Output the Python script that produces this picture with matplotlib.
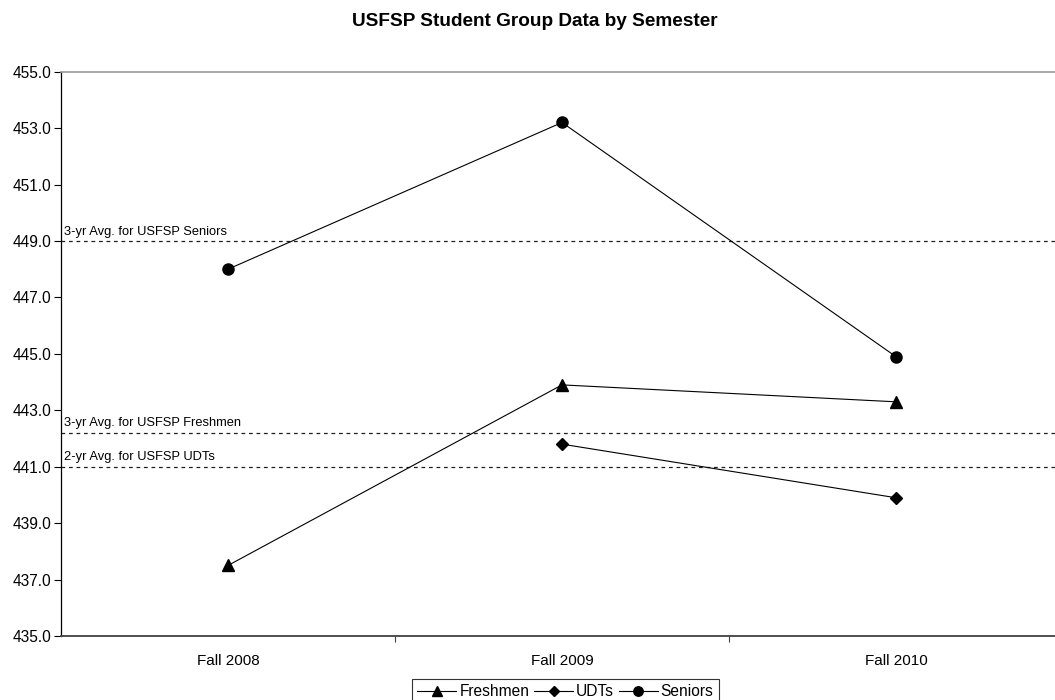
import matplotlib
matplotlib.use("Agg")
import matplotlib.pyplot as plt
import matplotlib.transforms as mtransforms
import numpy as np

plt.rcParams['font.family'] = ['Liberation Sans', 'DejaVu Sans']

# dados
semesters = ["Fall 2008", "Fall 2009", "Fall 2010"]
freshmen = [437.5, 443.9, 443.3]
udts = [np.nan, 441.8, 439.9]
seniors = [448.0, 453.2, 444.9]

avg_values = [449.0, 442.2, 441.0]
avg_labels = ["3-yr Avg. for USFSP Seniors",
              "3-yr Avg. for USFSP Freshmen",
              "2-yr Avg. for USFSP UDTs"]

fig = plt.figure(figsize=(10.55, 7.0), dpi=100)
ax = fig.add_axes([61 / 1055, 64 / 700, 1002 / 1055, 564.3 / 700])

x = np.arange(len(semesters))

# linhas de media tracejadas
trans = mtransforms.blended_transform_factory(ax.transAxes, ax.transData)
for val, lab in zip(avg_values, avg_labels):
    ax.axhline(val, color="#202020", lw=0.9, linestyle=(0, (3, 3)), zorder=1)
    ax.text(0.003, val + 0.12, lab, transform=trans, fontsize=9.3,
            ha="left", va="bottom", color="black")

ax.plot(x, freshmen, color="black", lw=0.8, marker="^", markersize=8, label="Freshmen", zorder=3)
ax.plot(x, udts, color="black", lw=0.8, marker="D", markersize=6, label="UDTs", zorder=3)
ax.plot(x, seniors, color="black", lw=0.8, marker="o", markersize=8, label="Seniors", zorder=3)

ax.set_xlim(-0.5, 2.5)
ax.set_ylim(435, 455)
yt = np.arange(435, 455.1, 2)
ax.set_yticks(yt)
ax.set_yticklabels(["%.1f" % v for v in yt], fontsize=11.2)
ax.set_xticks(x)
ax.set_xticklabels(semesters, fontsize=11)
ax.set_xticks([0.5, 1.5, 2.5], minor=True)
ax.tick_params(axis="x", which="major", length=0, pad=13)
ax.tick_params(axis="x", which="minor", length=4, width=0.8, direction="out", color="#404040")
ax.tick_params(axis="y", length=5, width=0.8, direction="out", pad=2)

ax.spines["right"].set_visible(False)
ax.spines["top"].set_color("#999999")
ax.spines["top"].set_linewidth(1.2)
ax.spines["bottom"].set_color("#404040")
ax.spines["bottom"].set_linewidth(1.3)
ax.spines["left"].set_color("black")
ax.spines["left"].set_linewidth(0.9)

fig.text(535 / 1055, 1 - 21 / 700, "USFSP Student Group Data by Semester", ha="center", va="center",
         fontsize=13.7, fontweight="bold")

leg = fig.legend(loc="upper left", bbox_to_anchor=(412 / 1055, 1 - 679 / 700), ncol=3,
                 fontsize=11.2, frameon=True, fancybox=False, edgecolor="black",
                 handlelength=2.5, handletextpad=0.2, columnspacing=0.3,
                 borderpad=0.35, borderaxespad=0, markerscale=0.85)
leg.get_frame().set_linewidth(0.8)

fig.savefig("out.png", dpi=100)
